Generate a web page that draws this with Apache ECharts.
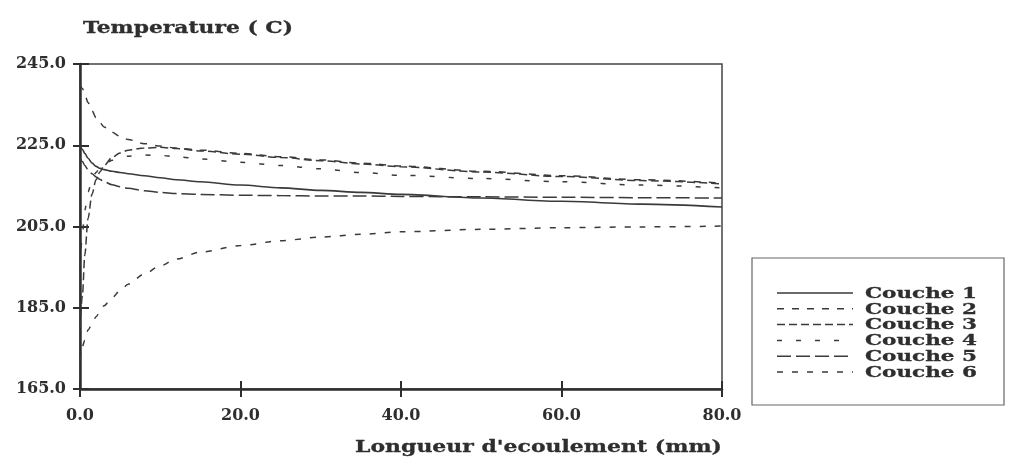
<!DOCTYPE html>
<html>
<head>
<meta charset="utf-8">
<style>
    html, body { margin: 0; padding: 0; background: #ffffff; }
    #chart { width: 1020px; height: 466px; }
</style>
<script src="https://cdn.jsdelivr.net/npm/echarts@6/dist/echarts.min.js"></script>
</head>
<body>
<div id="chart"></div>
<script>
// longueur d'ecoulement (mm) - points de lecture
const longueur = [0, 0.3, 0.6, 1, 1.5, 2, 2.5, 3, 4, 5, 6, 8, 10, 12, 15, 20, 25, 30, 35, 40, 50, 60, 70, 80];

// temperatures (C)
const couche1 = [225, 224, 223, 221.8, 220.6, 219.8, 219.3, 219.0, 218.6, 218.3, 218.0, 217.5, 217.0, 216.5, 216.0, 215.2, 214.5, 213.9, 213.4, 212.9, 212.0, 211.2, 210.5, 209.8];
const couche2 = [240, 239, 237.5, 235.5, 233.5, 231.8, 230.5, 229.5, 228.2, 227.2, 226.4, 225.4, 224.8, 224.3, 223.8, 223.0, 222.2, 221.4, 220.6, 219.9, 218.6, 217.5, 216.5, 215.7];
const couche3 = [180, 188, 198, 207, 213, 216.5, 218.5, 220, 222, 223.1, 223.8, 224.3, 224.5, 224.2, 223.6, 222.8, 222.0, 221.2, 220.4, 219.7, 218.4, 217.3, 216.3, 215.5];
const couche4 = [195, 203, 209, 213.5, 216.5, 218.3, 219.5, 220.3, 221.3, 221.9, 222.3, 222.6, 222.5, 222.2, 221.6, 220.8, 220.0, 219.2, 218.3, 217.6, 216.8, 216.0, 215.2, 214.5];
const couche5 = [222, 221, 220, 219, 218, 217.2, 216.6, 216.0, 215.3, 214.8, 214.4, 213.8, 213.4, 213.1, 212.9, 212.7, 212.6, 212.5, 212.5, 212.4, 212.3, 212.2, 212.1, 212.0];
const couche6 = [172, 175.5, 177, 179.5, 181, 182.8, 184, 185.5, 187.5, 189.2, 190.8, 193.3, 195.3, 197.0, 198.7, 200.3, 201.5, 202.4, 203.1, 203.7, 204.3, 204.7, 204.9, 205.1];

const nomsCouches = ['Couche 1', 'Couche 2', 'Couche 3', 'Couche 4', 'Couche 5', 'Couche 6'];
const tiretsCouches = ['solid', [7, 8], [8, 4], [5, 14], [14, 5], [6, 9]];

const police = 'DejaVu Serif';
const encre = '#2e2e2e';
const trait = '#3a3a3a';

const chart = echarts.init(document.getElementById('chart'));

function paires(valeurs) {
    return longueur.map((x, i) => [x, valeurs[i]]);
}

// la police du scan est plus large : on etire le texte a la largeur voulue
const mesure = document.createElement('canvas').getContext('2d');
function texteEtire(texte, taille, largeur, x, y) {
    const font = 'bold ' + taille + 'px "' + police + '"';
    mesure.font = font;
    const w = mesure.measureText(texte).width || largeur;
    return {
        type: 'text',
        x: x,
        y: y,
        scaleX: largeur / w,
        style: {
            text: texte, font: font, fill: encre,
            stroke: encre, lineWidth: 0.3,
            textVerticalAlign: 'middle', verticalAlign: 'middle'
        }
    };
}

const donnees = [couche1, couche2, couche3, couche4, couche5, couche6];

// legende dessinee a la main, dans un cadre
const legende = [{
    type: 'rect',
    shape: { x: 752, y: 258, width: 252, height: 147 },
    style: { fill: 'none', stroke: '#666', lineWidth: 1.2 }
}];
nomsCouches.forEach((nom, i) => {
    const y = 293 + i * 15.8;
    legende.push({
        type: 'line',
        shape: { x1: 777, y1: y, x2: 853, y2: y },
        style: { stroke: trait, lineWidth: 1.5, lineDash: tiretsCouches[i] === 'solid' ? null : tiretsCouches[i] }
    });
    legende.push(texteEtire(nom, 15, 112, 865, y + 1));
});

const option = {
    backgroundColor: '#ffffff',
    animation: false,
    grid: {
        left: 80,
        right: 298,
        top: 64,
        bottom: 77,
        show: true,
        borderColor: '#444',
        borderWidth: 1.5,
        backgroundColor: 'transparent'
    },
    graphic: [
        texteEtire('Temperature ( C)', 17, 210, 83, 29),
        texteEtire("Longueur d'ecoulement (mm)", 17, 367, 355, 448)
    ].concat(legende),
    xAxis: [{
        type: 'value',
        min: 0,
        max: 80,
        interval: 20,
        axisLine: { lineStyle: { color: encre, width: 2.5 } },
        axisTick: { length: 8, lineStyle: { color: encre, width: 2 } },
        splitLine: { show: false },
        axisLabel: {
            margin: 19,
            fontFamily: police, fontSize: 16, fontWeight: 'bold', color: encre,
            formatter: v => v.toFixed(1)
        }
    }, {
        type: 'value',
        position: 'bottom',
        min: 0,
        max: 80,
        interval: 20,
        axisLine: { show: false },
        axisTick: { inside: true, length: 8, lineStyle: { color: encre, width: 2 } },
        splitLine: { show: false },
        axisLabel: { show: false }
    }],
    yAxis: [{
        type: 'value',
        min: 165,
        max: 245,
        interval: 20,
        axisLine: { show: true, lineStyle: { color: encre, width: 2.5 } },
        axisTick: { show: true, length: 7, lineStyle: { color: encre, width: 2 } },
        splitLine: { show: false },
        axisLabel: {
            margin: 14,
            fontFamily: police, fontSize: 16, fontWeight: 'bold', color: encre,
            formatter: v => v.toFixed(1)
        }
    }, {
        type: 'value',
        position: 'left',
        min: 165,
        max: 245,
        interval: 20,
        axisLine: { show: false },
        axisTick: { show: true, inside: true, length: 9, lineStyle: { color: encre, width: 2 } },
        splitLine: { show: false },
        axisLabel: { show: false }
    }],
    series: nomsCouches.map((nom, i) => ({
        name: nom,
        type: 'line',
        xAxisIndex: 0,
        yAxisIndex: 0,
        data: paires(donnees[i]),
        symbol: 'none',
        smooth: 0.3,
        smoothMonotone: 'x',
        lineStyle: { color: trait, width: i === 0 ? 1.6 : 1.5, type: tiretsCouches[i] },
        itemStyle: { color: trait }
    }))
};

chart.setOption(option);
</script>
</body>
</html>
